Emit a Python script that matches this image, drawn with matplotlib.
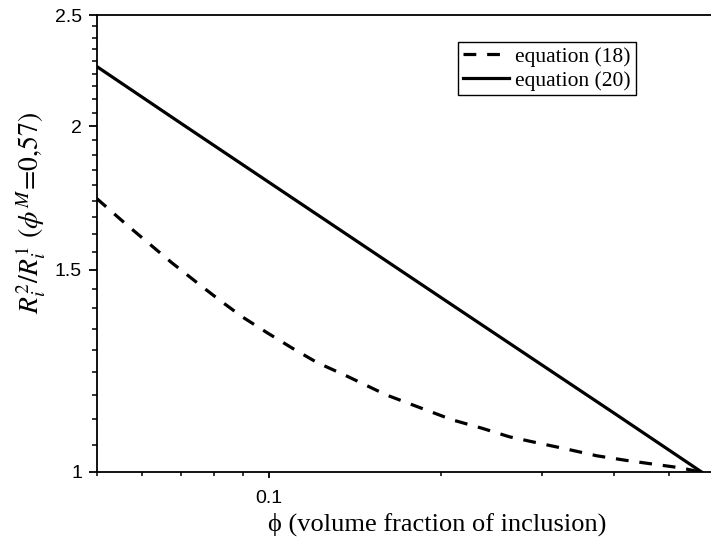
import matplotlib
matplotlib.use('Agg')
import matplotlib.pyplot as plt
from matplotlib.ticker import FixedLocator, NullFormatter, FixedFormatter

plt.rcParams['mathtext.fontset'] = 'stix'

# data (log-log axes)
phi_18 = [0.0499, 0.0564, 0.0676, 0.0745, 0.0818, 0.0897, 0.0992, 0.1097, 0.1214,
          0.1353, 0.1603, 0.1884, 0.2092, 0.2351, 0.2632, 0.2947, 0.3313, 0.3740,
          0.4185, 0.4686, 0.5267, 0.566]
ratio_18 = [1.731, 1.641, 1.521, 1.464, 1.412, 1.365, 1.322, 1.282, 1.245,
            1.215, 1.167, 1.132, 1.110, 1.092, 1.073, 1.060, 1.047, 1.033,
            1.024, 1.016, 1.008, 1.0]

phi_20 = [0.05, 0.07, 0.1, 0.2, 0.3, 0.4, 0.57]
ratio_20 = [2.254, 2.013, 1.787, 1.418, 1.239, 1.126, 1.0]

y_major = [1, 1.5, 2, 2.5]
y_labels = ['1', '1.5', '2', '2.5']
x_major = [0.1]
x_minor = [0.05, 0.06, 0.07, 0.08, 0.09, 0.2, 0.3, 0.4, 0.5]

fig = plt.figure(figsize=(7.11, 5.43), dpi=100)
ax = fig.add_axes([97/711, 71/543, 1 - 97/711, (472 - 15)/543])

ax.plot(phi_18, ratio_18, color='black', lw=2.3, dashes=(4, 3.4), label='equation (18)')
ax.plot(phi_20, ratio_20, color='black', lw=2.3, label='equation (20)')

ax.set_xscale('log')
ax.set_yscale('log')
ax.set_xlim(0.05, 0.592)
ax.set_ylim(1, 2.5)

ax.yaxis.set_major_locator(FixedLocator(y_major))
ax.yaxis.set_major_formatter(FixedFormatter(y_labels))
y_minor = []
for lo in [1, 1.5, 2]:
    y_minor += [lo + k * 0.5 / 9 for k in range(1, 9)]
ax.yaxis.set_minor_locator(FixedLocator(y_minor))
ax.yaxis.set_minor_formatter(NullFormatter())

ax.xaxis.set_major_locator(FixedLocator(x_major))
ax.xaxis.set_major_formatter(FixedFormatter(['0.1']))
ax.xaxis.set_minor_locator(FixedLocator(x_minor))
ax.xaxis.set_minor_formatter(NullFormatter())

ax.spines['right'].set_visible(False)
for s in ['left', 'bottom', 'top']:
    ax.spines[s].set_linewidth(1.3)

ax.tick_params(which='both', direction='out', top=False, right=False, labelsize=14)
ax.tick_params(axis='y', which='major', length=5.8, width=1.3, pad=5)
ax.tick_params(axis='y', which='minor', length=3.6, width=1.1)
ax.tick_params(axis='x', which='major', length=4.3, width=1.3, pad=8.6)
ax.tick_params(axis='x', which='minor', length=2.6, width=1.1)
for lab in ax.get_xticklabels() + ax.get_yticklabels():
    lab.set_family(['Liberation Sans', 'DejaVu Sans'])

ax.set_xlabel('ϕ (volume fraction of inclusion)', fontsize=19,
              family=['Liberation Serif', 'DejaVu Serif'], labelpad=4)
ax.xaxis.set_label_coords((437 - 97) / 614, -(513 - 472) / 457, transform=ax.transAxes)
ax.xaxis.label.set_va('top')
ax.set_ylabel(r'$R_i^2/R_i^1\ (\phi^M\!=\!\mathit{0{,}57})$', fontsize=20)
ax.yaxis.set_label_coords(-(97 - 31) / 614, (472 - 213) / 457, transform=ax.transAxes)
ax.yaxis.label.set_va('center')

leg = ax.legend(loc='upper left', bbox_to_anchor=(458/711, 1 - 42/543),
                bbox_transform=fig.transFigure, frameon=True, fancybox=False,
                edgecolor='black', framealpha=1, borderpad=0.22, borderaxespad=0,
                handlelength=2.15, handletextpad=0.3, labelspacing=0.18,
                prop={'family': ['Liberation Serif', 'DejaVu Serif'], 'size': 15.5})
leg.get_frame().set_linewidth(1.0)

fig.savefig('out.png', dpi=100)
